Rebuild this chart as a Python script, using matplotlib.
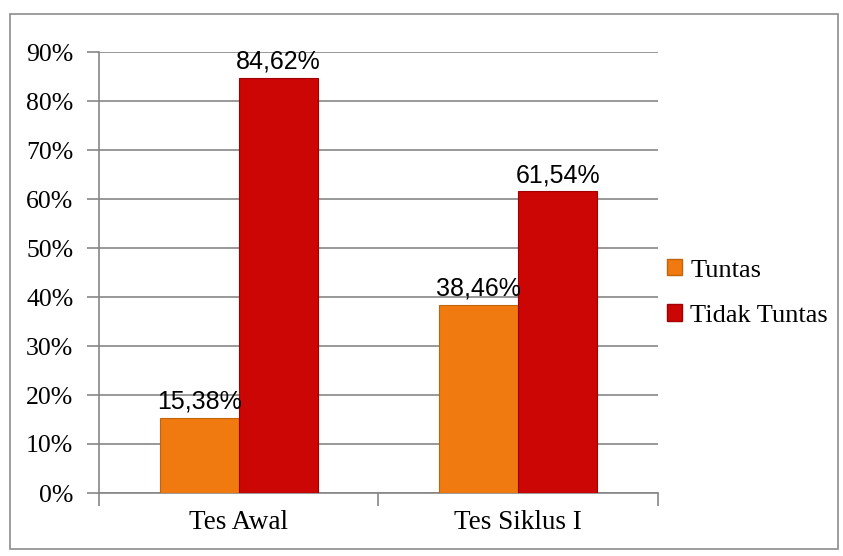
import matplotlib
matplotlib.use("Agg")
import matplotlib.pyplot as plt
from matplotlib.patches import Rectangle, Patch
import numpy as np

categories = ["Tes Awal", "Tes Siklus I"]
series_names = ["Tuntas", "Tidak Tuntas"]
tuntas = [15.38, 38.46]
tidak_tuntas = [84.62, 61.54]
yticks = [0, 10, 20, 30, 40, 50, 60, 70, 80, 90]

W, H = 843, 556
fig = plt.figure(figsize=(W/100, H/100), dpi=100)
fig.patch.set_facecolor("white")

# outer chart border
fig.patches.append(Rectangle((10/W, 1-549/H), 828/W, 535/H, transform=fig.transFigure,
                             fill=False, edgecolor="#8c8c8c", linewidth=1.2))

ax = fig.add_axes([99/W, 1-493/H, 559/W, 441/H])
x = np.arange(len(categories))
bw = 0.283
c1, c2 = "#f07a10", "#cc0505"
b1 = ax.bar(x - bw/2, tuntas, bw, color=c1, edgecolor="#c0650c", linewidth=0.8, zorder=3)
b2 = ax.bar(x + bw/2, tidak_tuntas, bw, color=c2, edgecolor="#a00000", linewidth=0.8, zorder=3)

for bars, vals in ((b1, tuntas), (b2, tidak_tuntas)):
    for r, v in zip(bars, vals):
        ax.text(r.get_x() + r.get_width()/2, v + 0.9, f"{v:.2f}%".replace(".", ","),
                ha="center", va="bottom", fontsize=18, family="Liberation Sans", zorder=4)

ax.set_xlim(-0.5, 1.5)
ax.set_ylim(0, 90)
ax.set_yticks(yticks)
ax.set_yticklabels([f"{t}%" for t in yticks], family="Liberation Serif", fontsize=18.5)
ax.set_xticks([-0.5, 0.5, 1.5], minor=False)
ax.set_xticklabels([])
ax.set_xticks(x, minor=True)
ax.set_xticklabels(categories, minor=True, family="Liberation Serif", fontsize=19.5)
ax.tick_params(axis="x", which="minor", length=0, pad=12)
ax.tick_params(axis="x", which="major", length=9, direction="out", color="#868686", width=1.2)
ax.tick_params(axis="y", length=9, direction="out", color="#868686", width=1.2, pad=9.5)
ax.grid(axis="y", color="#868686", linewidth=1.2, zorder=0)
for s in ("top", "right"):
    ax.spines[s].set_visible(False)
for s in ("left", "bottom"):
    ax.spines[s].set_color("#868686")
    ax.spines[s].set_linewidth(1.2)

handles = [Patch(facecolor=c1, edgecolor="#c0650c"), Patch(facecolor=c2, edgecolor="#a00000")]
fig.legend(handles, series_names, loc="upper left", bbox_to_anchor=(667/W, 1-259/H),
           frameon=False, prop={"family": "Liberation Serif", "size": 19},
           handlelength=0.58, handleheight=0.58, handletextpad=0.3, labelspacing=0.87,
           borderpad=0, borderaxespad=0)

fig.savefig("out.png", dpi=100)
